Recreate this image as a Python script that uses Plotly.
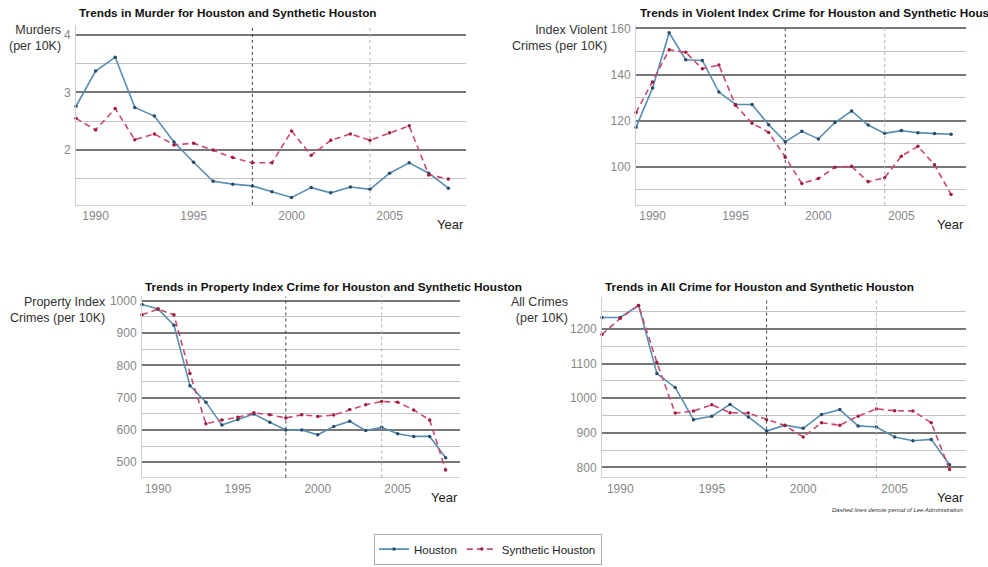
import plotly.graph_objs as go

W, H = 988, 567

years = list(range(1989, 2009))

# murders per 10K
murder_houston = [2.76, 3.37, 3.61, 2.74, 2.59, 2.14, 1.79, 1.46, 1.41, 1.38,
                  1.28, 1.18, 1.35, 1.26, 1.36, 1.32, 1.60, 1.78, 1.60, 1.34]
murder_synth = [2.55, 2.35, 2.72, 2.18, 2.28, 2.09, 2.12, 2.00, 1.87, 1.78,
                1.78, 2.33, 1.91, 2.17, 2.28, 2.17, 2.30, 2.42, 1.57, 1.50]

# index violent crimes per 10K
violent_houston = [117.1, 134.2, 158.1, 146.4, 146.1, 132.4, 127.0, 127.0, 118.2, 110.9,
                   115.4, 112.1, 119.2, 124.2, 118.1, 114.5, 115.7, 114.8, 114.4, 114.1]
violent_synth = [123.5, 136.8, 150.7, 149.6, 142.5, 144.1, 126.7, 118.9, 114.9, 104.2,
                 92.8, 94.9, 99.8, 100.2, 93.5, 95.3, 104.6, 108.9, 100.9, 88.0]

# property index crimes per 10K
property_houston = [988, 974, 924, 737, 686, 615, 632, 649, 624, 600,
                    600, 585, 611, 627, 598, 608, 588, 580, 580, 514]
property_synth = [956, 974, 956, 775, 619, 631, 639, 653, 647, 637,
                  647, 642, 646, 663, 678, 688, 686, 662, 631, 476]

# all crimes per 10K
all_houston = [1233, 1233, 1268, 1071, 1031, 938, 948, 982, 946, 905,
               922, 913, 953, 967, 920, 917, 888, 877, 881, 808]
all_synth = [1184, 1231, 1268, 1103, 957, 963, 981, 958, 957, 938,
             921, 888, 929, 922, 948, 969, 964, 963, 929, 794]

lee_years = [1998, 2004]
year_ticks = [1990, 1995, 2000, 2005]


def px(x):
    return x / W


def py(y):
    return 1 - y / H


blue = 'rgb(88,142,178)'
blue_dot = 'rgb(40,75,105)'
pink = 'rgb(204,72,112)'
pink_dot = 'rgb(160,30,60)'

panels = [
    dict(h=murder_houston, s=murder_synth, xd=[76, 466], yd=[22, 203], yr=[1.05, 4.17], dt=1,
         title='Trends in Murder for Houston and Synthetic Houston', tx=77, ty=10.5,
         ylab='Murders<br>(per 10K)', lx=63, ly=18),
    dict(h=violent_houston, s=violent_synth, xd=[636, 966], yd=[22, 203], yr=[83.5, 161.5], dt=20,
         title='Trends in Violent Index Crime for Houston and Synthetic Houston', tx=638, ty=10.5,
         ylab='Index Violent<br>Crimes (per 10K)', lx=610, ly=18),
    dict(h=property_houston, s=property_synth, xd=[142, 460], yd=[295, 477], yr=[453, 1013], dt=100,
         title='Trends in Property Index Crime for Houston and Synthetic Houston', tx=143, ty=286,
         ylab='Property Index<br>Crimes (per 10K)', lx=108, ly=292),
    dict(h=all_houston, s=all_synth, xd=[602, 966], yd=[296, 477], yr=[771, 1291], dt=100,
         title='Trends in All Crime for Houston and Synthetic Houston', tx=603, ty=286,
         ylab='All Crimes<br>(per 10K)', lx=570, ly=292),
]

fig = go.Figure()
layout = dict(
    width=W, height=H,
    margin=dict(l=0, r=0, t=0, b=0),
    plot_bgcolor='white', paper_bgcolor='white',
    font=dict(family='Liberation Sans, Arial, sans-serif', color='#333'),
    annotations=[], shapes=[],
    legend=dict(
        orientation='h', x=px(488), y=py(549), xanchor='center', yanchor='middle',
        bordercolor='#aaa', borderwidth=1, font=dict(size=11.5, color='#222'),
        itemwidth=30, tracegroupgap=0,
    ),
)

for i, p in enumerate(panels):
    n = '' if i == 0 else str(i + 1)
    xa, ya = 'x' + n, 'y' + n
    fig.add_trace(go.Scatter(
        x=years, y=p['h'], name='Houston', mode='lines+markers',
        line=dict(color=blue, width=1.6), marker=dict(color=blue_dot, size=3.5),
        xaxis=xa, yaxis=ya, showlegend=(i == 0), legendgroup='h', cliponaxis=False,
    ))
    fig.add_trace(go.Scatter(
        x=years, y=p['s'], name='Synthetic Houston', mode='lines+markers',
        line=dict(color=pink, width=1.6, dash='6px,4px'), marker=dict(color=pink_dot, size=3.5),
        xaxis=xa, yaxis=ya, showlegend=(i == 0), legendgroup='s', cliponaxis=False,
    ))
    layout['xaxis' + n] = dict(
        domain=[px(p['xd'][0]), px(p['xd'][1])], anchor=ya,
        range=[1989, 2008.9], tickvals=year_ticks, showgrid=False, zeroline=False,
        showline=True, linecolor='#d0d0d0', linewidth=1, ticks='',
        tickfont=dict(size=12, color='#888'),
    )
    layout['yaxis' + n] = dict(
        domain=[py(p['yd'][1]), py(p['yd'][0])], anchor=xa,
        range=p['yr'], dtick=p['dt'], showgrid=True, gridcolor='#777', gridwidth=1.5,
        minor=dict(dtick=p['dt'] / 2, showgrid=True, gridcolor='#c4c4c4', gridwidth=1.2),
        zeroline=False, showline=True, linecolor='#d0d0d0', linewidth=1, ticks='',
        tickfont=dict(size=12, color='#888'), ticklabelstandoff=2,
    )
    for yr, col in zip(lee_years, ['#444', '#b0b0b0']):
        layout['shapes'].append(dict(
            type='line', xref=xa, yref=ya + ' domain', x0=yr, x1=yr, y0=0, y1=1,
            line=dict(color=col, width=1, dash='3px,3px'), layer='above',
        ))
    layout['annotations'].append(dict(
        text='<b>' + p['title'] + '</b>', xref='paper', yref='paper',
        x=px(p['tx']), y=py(p['ty']), xanchor='left', yanchor='middle',
        showarrow=False, font=dict(size=11.8, color='#111'),
    ))
    layout['annotations'].append(dict(
        text=p['ylab'], xref='paper', yref='paper', align='right',
        x=px(p['lx']), y=py(p['ly']), xanchor='right', yanchor='top',
        showarrow=False, font=dict(size=12.5, color='#333'),
    ))
    layout['annotations'].append(dict(
        text='Year', xref='paper', yref='paper',
        x=px(p['xd'][1]), y=py(p['yd'][1] + 20), xanchor='right', yanchor='middle',
        showarrow=False, font=dict(size=13, color='#222'),
    ))

layout['annotations'].append(dict(
    text='<i>Dashed lines denote period of Lee Administration</i>', xref='paper', yref='paper',
    x=px(966), y=py(510), xanchor='right', yanchor='middle',
    showarrow=False, font=dict(size=6, color='#333'),
))

fig.update_layout(**layout)
# drop the browser's default 8px body margin so the figure fills the window
fig.write_html('out.html', config={'displayModeBar': False},
               post_script="document.body.style.margin='0';")
